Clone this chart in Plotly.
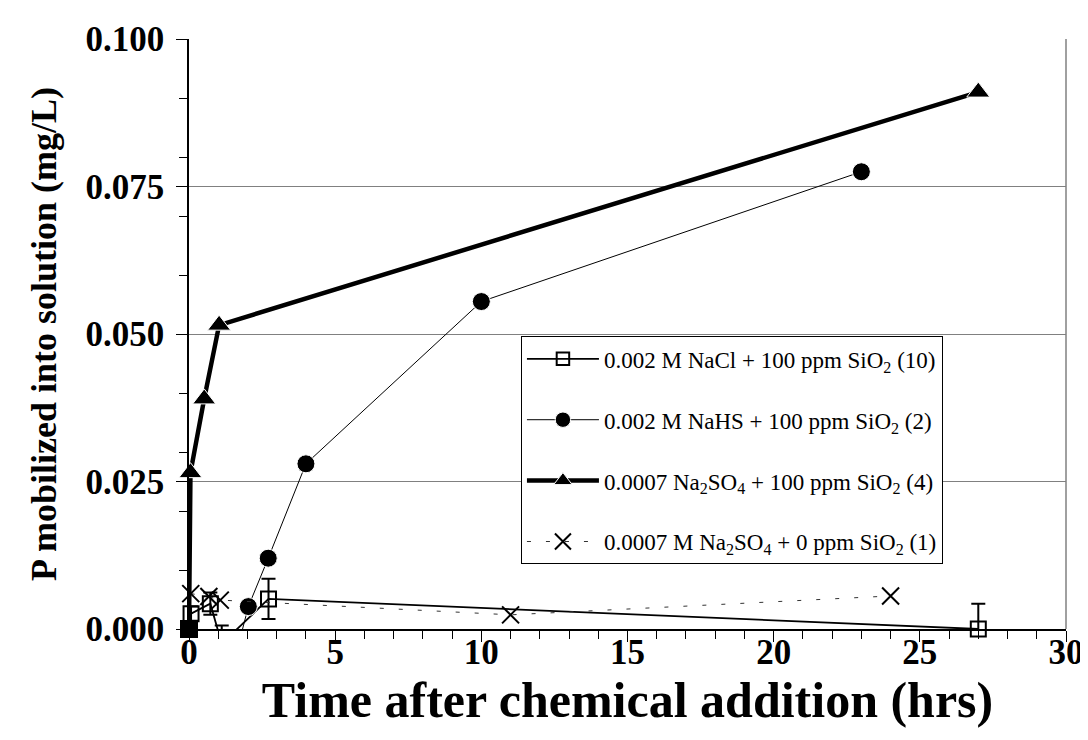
import plotly.graph_objects as go

# NaCl + 100 ppm SiO2 (10)
nacl_x = [0.0, 0.07, 0.73, 1.12, 2.72, 27.0]
nacl_y = [0.0, 0.0026, 0.0043, -0.0025, 0.0051, 0.0]
nacl_err = [0.0, 0.0012, 0.0019, 0.0031, 0.0034, 0.0043]

# NaHS + 100 ppm SiO2 (2)
nahs_x = [0.0, 1.0, 2.03, 2.71, 4.0, 10.0, 23.0]
nahs_y = [0.0, -0.016, 0.0038, 0.012, 0.028, 0.0555, 0.0775]

# Na2SO4 + 100 ppm SiO2 (4)
so4_x = [0.0, 0.05, 0.52, 1.03, 27.0]
so4_y = [0.0, 0.0265, 0.0390, 0.0515, 0.0910]

# Na2SO4 + 0 ppm SiO2 (1)
so4b_x = [0.06, 0.68, 1.07, 11.0, 24.0]
so4b_y = [0.0060, 0.0055, 0.0049, 0.0024, 0.0056]

names = [
    "0.002 M NaCl + 100 ppm SiO<sub>2</sub> (10)",
    "0.002 M NaHS + 100 ppm SiO<sub>2</sub> (2)",
    "0.0007 Na<sub>2</sub>SO<sub>4</sub> + 100 ppm SiO<sub>2</sub> (4)",
    "0.0007 M Na<sub>2</sub>SO<sub>4</sub> + 0 ppm SiO<sub>2</sub> (1)",
]

x_ticks = [0, 5, 10, 15, 20, 25, 30]
y_ticks = [0.0, 0.025, 0.05, 0.075, 0.1]


def sizes(ys, s):
    return [s if v >= 0 else 0 for v in ys]


fig = go.Figure()

fig.add_trace(go.Scatter(
    x=nacl_x, y=nacl_y, name=names[0], mode="lines+markers",
    line=dict(color="black", width=1.8),
    marker=dict(symbol="square-open", size=sizes(nacl_y, 15), color="black", opacity=1,
                line=dict(width=2, color="black")),
    error_y=dict(type="data", array=nacl_err, visible=True, color="black",
                 thickness=2, width=7),
    cliponaxis=False, legendgroup="a",
))
fig.add_trace(go.Scatter(
    x=nahs_x, y=nahs_y, name=names[1], mode="lines+markers",
    line=dict(color="black", width=1),
    marker=dict(symbol="circle", size=sizes(nahs_y, 18), color="black", opacity=1),
    cliponaxis=False, legendgroup="b",
))
fig.add_trace(go.Scatter(
    x=so4_x, y=so4_y, name=names[2], mode="lines+markers",
    line=dict(color="black", width=4.5),
    marker=dict(symbol="triangle-up", size=[0] + [20] * (len(so4_x) - 1),
                color="black", opacity=1),
    cliponaxis=False, legendgroup="c",
))
# filled marker at the origin (start of the Na2SO4 + 100 ppm series)
fig.add_trace(go.Scatter(
    x=so4_x[:1], y=so4_y[:1], mode="markers", showlegend=False,
    marker=dict(symbol="square", size=18, color="black", opacity=1),
    cliponaxis=False, legendgroup="c", hoverinfo="skip",
))
fig.add_trace(go.Scatter(
    x=so4b_x, y=so4b_y, name=names[3], mode="lines+markers",
    line=dict(color="#333333", width=1, dash="4px,15px"),
    marker=dict(symbol="x-thin-open", size=17, color="black", opacity=1,
                line=dict(width=2, color="black")),
    cliponaxis=False, legendgroup="d",
))

font_serif = "Liberation Serif, Times New Roman, serif"

fig.update_layout(
    width=1088, height=740,
    margin=dict(l=181, r=23, t=22, b=119),
    paper_bgcolor="white", plot_bgcolor="white",
    font=dict(family=font_serif, color="black"),
    showlegend=True,
    legend=dict(
        x=0.3785, y=0.496, xanchor="left", yanchor="top",
        bgcolor="white", bordercolor="black", borderwidth=1,
        font=dict(family=font_serif, size=23, color="black"),
        traceorder="grouped", tracegroupgap=28, itemwidth=72,
    ),
    xaxis=dict(
        range=[0, 30], tickvals=x_ticks, ticktext=[str(v) for v in x_ticks],
        ticks="outside", ticklen=11, tickwidth=1, tickcolor="black",
        minor=dict(dtick=1, tick0=0, ticks="outside", ticklen=8, tickcolor="black", tickwidth=1),
        showline=True, linecolor="black", linewidth=1.5, mirror=False,
        showgrid=False, zeroline=False, ticklabelstandoff=-20,
        tickfont=dict(family=font_serif, size=35, color="black", weight="bold"),
        title=dict(text="<b>Time after chemical addition (hrs)</b>",
                   font=dict(family=font_serif, size=50, color="black"), standoff=0),
    ),
    yaxis=dict(
        range=[0, 0.1], tickvals=y_ticks, ticktext=[f"{v:.3f}" for v in y_ticks],
        ticks="outside", ticklen=11, tickwidth=1, tickcolor="black",
        minor=dict(dtick=0.01, tick0=0, ticks="outside", ticklen=8, tickcolor="black", tickwidth=1),
        showline=True, linecolor="black", linewidth=1.5,
        showgrid=True, gridcolor="#808080", gridwidth=1, zeroline=False,
        ticklabelstandoff=5,
        tickfont=dict(family=font_serif, size=35, color="black", weight="bold"),
        title=dict(text="<b>P mobilized into solution (mg/L)</b>",
                   font=dict(family=font_serif, size=36, color="black"), standoff=18),
    ),
    shapes=[dict(type="line", xref="paper", yref="paper", x0=1, x1=1, y0=0, y1=1,
                 line=dict(color="#808080", width=1.5))],
)

fig.write_html("out.html")
